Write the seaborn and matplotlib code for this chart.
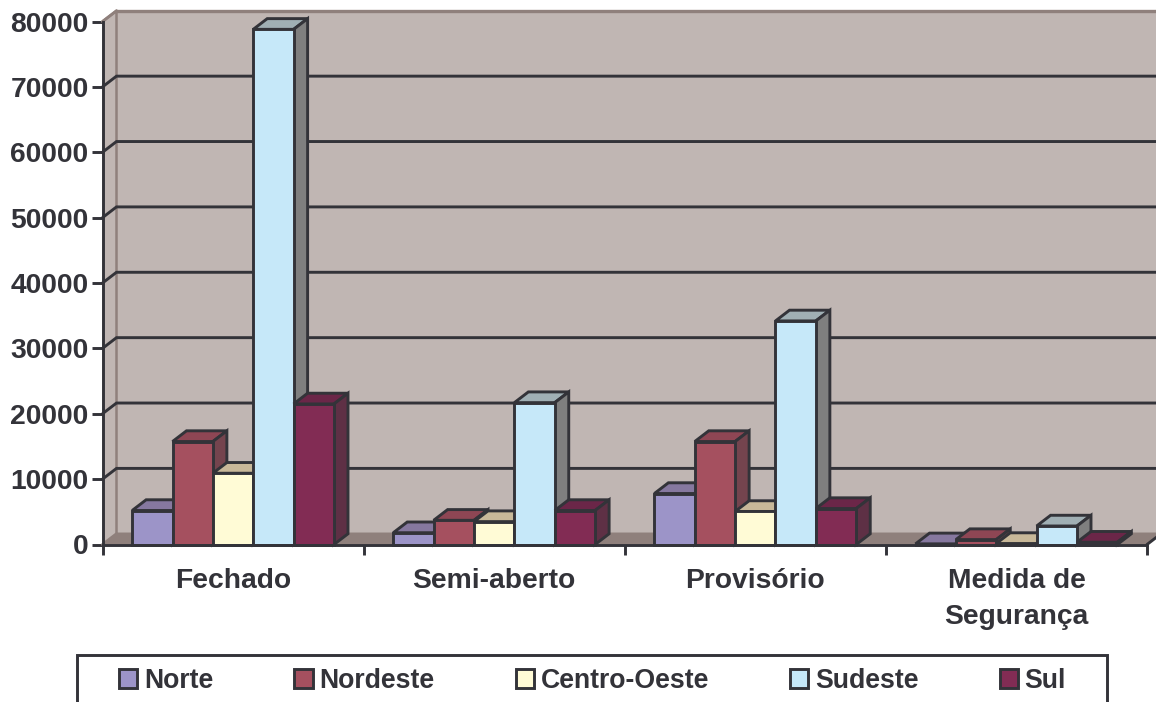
import matplotlib
matplotlib.use("Agg")
import matplotlib.pyplot as plt
from matplotlib.patches import Polygon, Rectangle
import pandas as pd
import seaborn as sns

categories = ["Fechado", "Semi-aberto", "Provisório", "Medida de\nSegurança"]
regions = ["Norte", "Nordeste", "Centro-Oeste", "Sudeste", "Sul"]
norte = [5200, 1800, 7800, 100]
nordeste = [15750, 3700, 15750, 750]
centro_oeste = [10900, 3500, 5050, 150]
sudeste = [78800, 21700, 34200, 2830]
sul = [21500, 5200, 5500, 350]
y_ticks = [0, 10000, 20000, 30000, 40000, 50000, 60000, 70000, 80000]

front_colors = ["#9C94C8", "#A5505F", "#FFFBD6", "#C6E8F9", "#822C54"]
top_colors = ["#86789F", "#8E4654", "#C8B899", "#A0AFB4", "#6B2648"]
side_colors = ["#6E6484", "#74444E", "#A89E80", "#7F7F7F", "#5E3045"]
WALL = "#C0B6B3"
FLOOR = "#8F807C"
INK = "#333339"
DX, DY = 0.0536, 1640
LW = 2.1
FS = 20.3
LEG_FS = 19.2

sns.set_theme(style="white")
plt.rcParams["font.family"] = ["Liberation Sans", "DejaVu Sans"]
plt.rcParams["font.weight"] = "bold"

W, H = 1156, 702
fig = plt.figure(figsize=(W / 100, H / 100), dpi=100, facecolor="white")
ax = fig.add_axes([102.5 / W, (H - 544.5) / H, 1044.5 / W, 523 / H])
ax.patch.set_visible(False)

series = [norte, nordeste, centro_oeste, sudeste, sul]
df = pd.DataFrame(
    [(c, r, s[i]) for r, s in zip(regions, series) for i, c in enumerate(categories)],
    columns=["categoria", "regiao", "valor"],
)
sns.barplot(
    data=df, x="categoria", y="valor", hue="regiao", order=categories,
    hue_order=regions, palette=front_colors, width=0.773, gap=0, saturation=1,
    edgecolor=INK, linewidth=LW, ax=ax,
)
ax.set_xlim(-0.5, 3.5)
ax.set_ylim(0, 80000)
ax.set_xlabel("")
ax.set_ylabel("")

# back wall, left wall and floor
ymax = 80000
ax.add_patch(Polygon([(-0.5 + DX, DY), (3.5 + DX, DY), (3.5 + DX, ymax + DY), (-0.5 + DX, ymax + DY)],
                     closed=True, fc=WALL, ec="none", zorder=0.5, clip_on=False))
ax.add_patch(Polygon([(-0.5, 0), (-0.5 + DX, DY), (-0.5 + DX, ymax + DY), (-0.5, ymax)],
                     closed=True, fc=WALL, ec="none", zorder=0.5, clip_on=False))
ax.add_patch(Polygon([(-0.5, 0), (3.5, 0), (3.5 + DX, DY), (-0.5 + DX, DY)],
                     closed=True, fc=FLOOR, ec="none", zorder=0.6, clip_on=False))
ax.plot([-0.5, -0.5 + DX, -0.5 + DX, 3.5 + DX], [ymax, ymax + DY, DY, DY],
        color=FLOOR, lw=1.8, zorder=0.8, clip_on=False)
ax.plot([-0.5 + DX, 3.5 + DX], [ymax + DY, ymax + DY], color=FLOOR, lw=2.4, zorder=0.8, clip_on=False)
ax.plot([3.5, 3.5 + DX], [0, DY], color=INK, lw=LW, zorder=0.9, clip_on=False)

# gridlines on the back wall, continued across the left wall
for t in y_ticks[1:-1]:
    ax.plot([-0.5, -0.5 + DX, 3.5 + DX], [t, t + DY, t + DY], color=INK, lw=LW,
            zorder=1, clip_on=False, solid_joinstyle="miter")
ax.plot([-0.5, -0.5 + DX], [ymax, ymax + DY], color=FLOOR, lw=LW, zorder=1, clip_on=False)
ax.plot([-0.5, -0.5 + DX], [0, DY], color=FLOOR, lw=LW, zorder=1, clip_on=False)

# depth faces of the bars
for i, container in enumerate(ax.containers):
    for bar in container:
        x0, w, h = bar.get_x(), bar.get_width(), bar.get_height()
        x1 = x0 + w
        bar.set_zorder(5 + i + 0.5)
        bar.set_clip_on(False)
        bar.set_joinstyle("miter")
        ax.add_patch(Polygon([(x0, h), (x1, h), (x1 + DX, h + DY), (x0 + DX, h + DY)], closed=True,
                             fc=top_colors[i], ec=INK, lw=LW, zorder=5 + i, clip_on=False, joinstyle="miter"))
        ax.add_patch(Polygon([(x1, 0), (x1 + DX, DY), (x1 + DX, h + DY), (x1, h)], closed=True,
                             fc=side_colors[i], ec=INK, lw=LW, zorder=5 + i, clip_on=False, joinstyle="miter"))

for s in ("top", "right"):
    ax.spines[s].set_visible(False)
for s in ("left", "bottom"):
    ax.spines[s].set_visible(True)
    ax.spines[s].set_color(INK)
    ax.spines[s].set_linewidth(LW)
    ax.spines[s].set_zorder(30)

ax.set_yticks(y_ticks)
ax.set_yticklabels([str(t) for t in y_ticks])
ax.tick_params(axis="y", which="major", left=True, length=8, width=LW, color=INK,
               labelsize=FS, labelcolor=INK, pad=2)
ax.set_xticks([-0.5, 0.5, 1.5, 2.5, 3.5])
ax.set_xticklabels([])
ax.set_xticks([0, 1, 2, 3], minor=True)
ax.set_xticklabels(categories, minor=True, fontsize=FS, color=INK, linespacing=1.5, fontweight="bold")
ax.tick_params(axis="x", which="major", bottom=True, length=7.5, width=LW, color=INK)
ax.tick_params(axis="x", which="minor", bottom=False, length=0, pad=17)

# legend
handles, labels = ax.get_legend_handles_labels()
frame = Rectangle((77 / W, -10 / H), 1030 / W, (H - 655 + 10) / H, transform=fig.transFigure,
                  fc="white", ec=INK, lw=LW, clip_on=False, zorder=-1)
fig.add_artist(frame)
leg = ax.legend(handles, labels, loc="center left", bbox_to_anchor=(119 / W, (H - 681) / H),
                bbox_transform=fig.transFigure, ncol=5, frameon=False, fontsize=LEG_FS, borderpad=0,
                borderaxespad=0, handlelength=0.68, handleheight=0.68, handletextpad=0.25,
                columnspacing=3.05, labelcolor=INK)
leg.set_zorder(40)
for t in leg.get_texts():
    t.set_fontweight("bold")

fig.savefig("out.png", dpi=100, facecolor="white")
